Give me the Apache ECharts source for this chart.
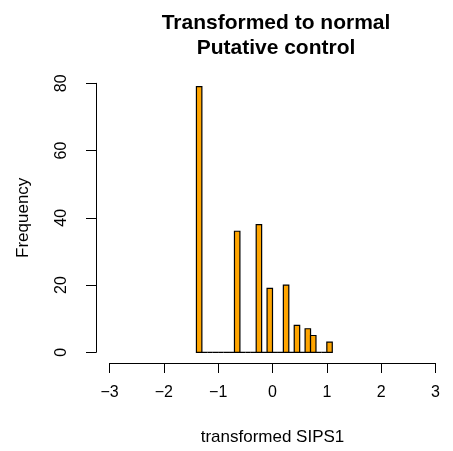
<!DOCTYPE html>
<html>
<head>
<meta charset="utf-8">
<script src="https://cdn.jsdelivr.net/npm/echarts@6/dist/echarts.min.js"></script>
<style>html,body{margin:0;padding:0;background:#fff;}#c{width:453px;height:451px;}</style>
</head>
<body>
<div id="c"></div>
<script>
const binLeft = [-1.4,-1.3,-1.2,-1.1,-1.0,-0.9,-0.8,-0.7,-0.6,-0.5,-0.4,-0.3,-0.2,-0.1,0.0,0.1,0.2,0.3,0.4,0.5,0.6,0.7,0.8,0.9,1.0];
const counts  = [79,0,0,0,0,0,0,36,0,0,0,38,0,19,0,0,20,0,8,0,7,5,0,0,3];
const binWidth = 0.1;
const xTicks = [-3,-2,-1,0,1,2,3];
const yTicks = [0,20,40,60,80];
const titleText = 'Transformed to normal\nPutative control';
const xName = 'transformed SIPS1';
const yName = 'Frequency';

const font = "'Liberation Sans', Arial, sans-serif";
const data = binLeft.map((b, i) => [b, b + binWidth, counts[i]]);

const chart = echarts.init(document.getElementById('c'), null, {renderer: 'canvas'});
chart.setOption({
  animation: false,
  backgroundColor: '#ffffff',
  title: {
    text: titleText,
    left: 271, top: 6, textAlign: 'center',
    textStyle: {fontFamily: font, fontSize: 21, fontWeight: 'bold', color: '#000', lineHeight: 25}
  },
  grid: {left: 109.5, width: 326, top: 83.3, height: 270},
  xAxis: {
    type: 'value', min: xTicks[0], max: xTicks[xTicks.length - 1], interval: 1,
    offset: 10.7,
    name: xName, nameLocation: 'middle', nameGap: 66,
    nameTextStyle: {fontFamily: font, fontSize: 17, color: '#000'},
    axisLine: {show: true, onZero: false, lineStyle: {color: '#000', width: 1}},
    axisTick: {show: true, length: 10, lineStyle: {color: '#000', width: 1}},
    axisLabel: {
      fontFamily: font, fontSize: 16, color: '#000', margin: 22,
      formatter: v => (v < 0 ? '\u2212' + Math.abs(v) : String(v))
    },
    splitLine: {show: false}
  },
  yAxis: {
    type: 'value', min: yTicks[0], max: yTicks[yTicks.length - 1], interval: 20,
    offset: 13.5,
    name: yName, nameLocation: 'middle', nameGap: 64, nameRotate: 90,
    nameTextStyle: {fontFamily: font, fontSize: 17, color: '#000'},
    axisLine: {show: true, onZero: false, lineStyle: {color: '#000', width: 1}},
    axisTick: {show: true, length: 10, lineStyle: {color: '#000', width: 1}},
    axisLabel: {fontFamily: font, fontSize: 16, color: '#000', margin: 26, rotate: 90},
    splitLine: {show: false}
  },
  series: [{
    type: 'custom',
    clip: false,
    data: data,
    encode: {x: [0, 1], y: 2},
    renderItem: function (params, api) {
      const p0 = api.coord([api.value(0), api.value(2)]);
      const p1 = api.coord([api.value(1), 0]);
      return {
        type: 'rect',
        shape: {x: p0[0], y: p0[1], width: p1[0] - p0[0], height: p1[1] - p0[1]},
        style: {fill: '#FFA500', stroke: '#000', lineWidth: 1.2}
      };
    }
  }]
});
</script>
</body>
</html>
